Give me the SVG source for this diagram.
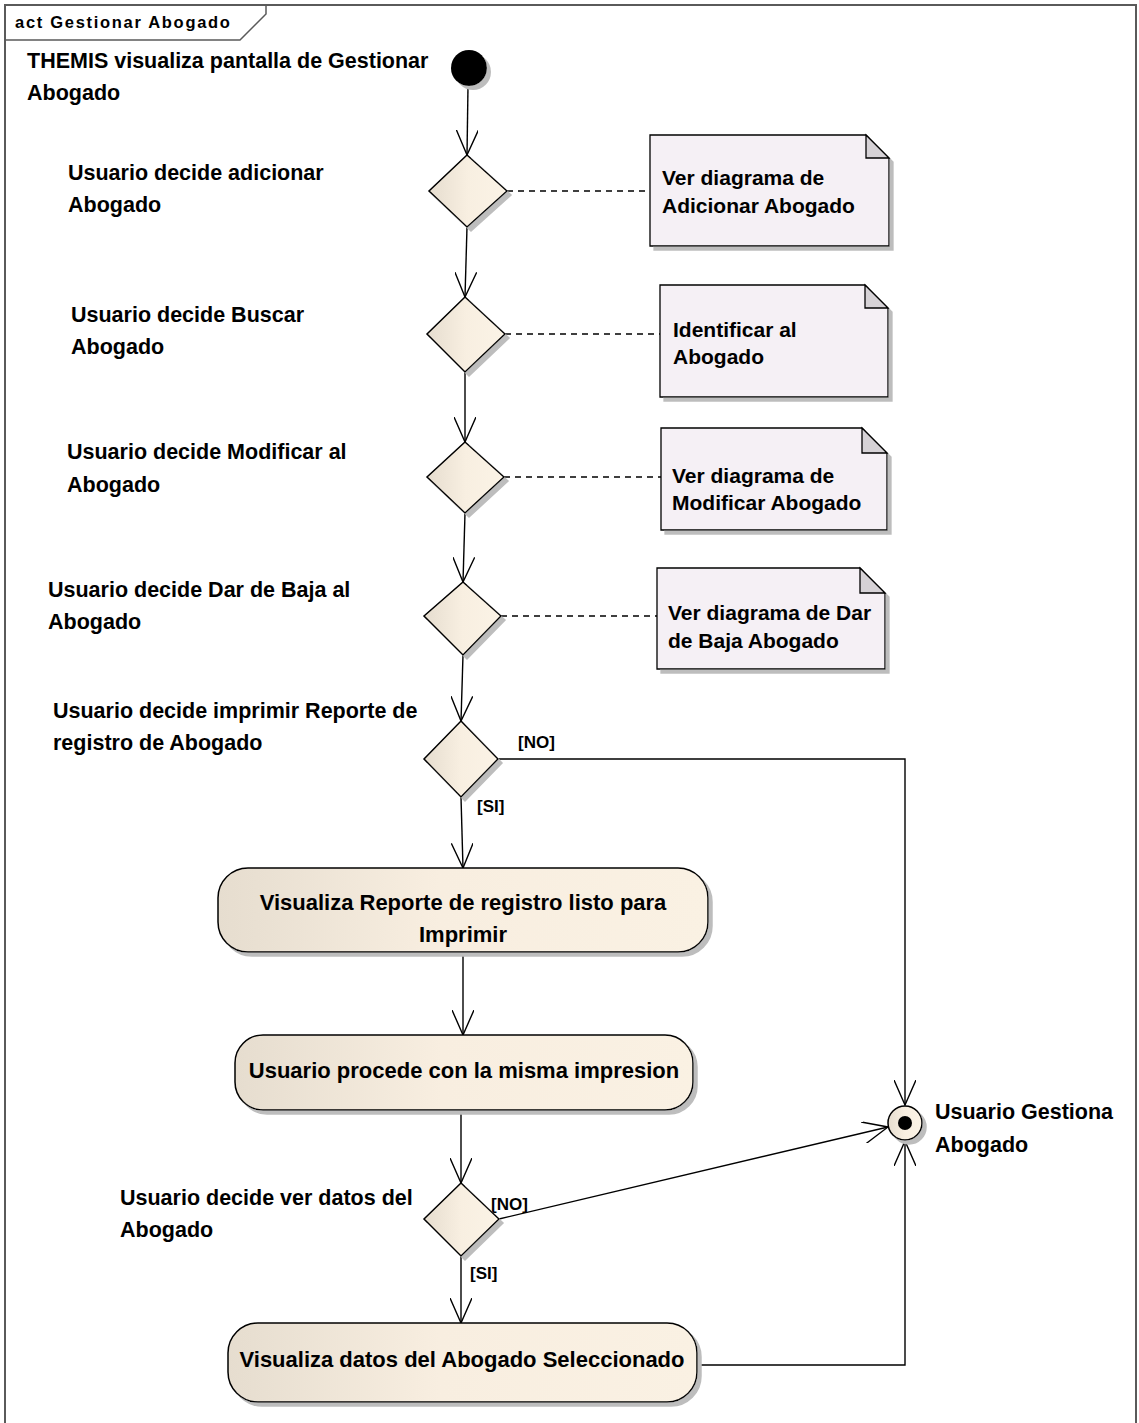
<svg xmlns="http://www.w3.org/2000/svg" width="1139" height="1423" viewBox="0 0 1139 1423">
<style>
text{font-family:"Liberation Sans",Arial,sans-serif;font-weight:bold;fill:#000}
.lbl{font-size:21.5px}
.note-t{font-size:21px}
.act-t{font-size:22px}
.grd{font-size:17px}
.hdr{font-size:16.5px;letter-spacing:1.7px}
.dia{fill:url(#gDia);stroke:#000;stroke-width:1.5;filter:url(#sh)}
.act{fill:url(#gAct);stroke:#000;stroke-width:1.5;filter:url(#sh)}
.note{fill:#f5f0f5;stroke:#000;stroke-width:1.3;filter:url(#sh)}
.fold{fill:#d6d2d6;stroke:#000;stroke-width:1.3}
.flow{fill:none;stroke:#000;stroke-width:1.4;marker-end:url(#arr)}
.dash{fill:none;stroke:#000;stroke-width:1.4;stroke-dasharray:6,5}
</style>
<defs>
<linearGradient id="gDia" x1="0" y1="0" x2="1" y2="0"><stop offset="0" stop-color="#e6ddcf"/><stop offset="0.5" stop-color="#f8efe1"/><stop offset="1" stop-color="#fbf3e6"/></linearGradient>
<linearGradient id="gAct" x1="0" y1="0" x2="1" y2="0"><stop offset="0" stop-color="#e6ddcf"/><stop offset="0.45" stop-color="#f8eee0"/><stop offset="1" stop-color="#faf1e3"/></linearGradient>
<filter id="sh" x="-10%" y="-10%" width="130%" height="130%"><feOffset in="SourceAlpha" dx="4" dy="4" result="o"/><feFlood flood-color="#bdbdbd"/><feComposite in2="o" operator="in"/><feMerge><feMergeNode/><feMergeNode in="SourceGraphic"/></feMerge></filter>
<marker id="arr" viewBox="0 0 26 22" refX="25" refY="11" markerWidth="26" markerHeight="22" markerUnits="userSpaceOnUse" orient="auto"><path d="M0,0 L25,11 L0,22" fill="none" stroke="#000" stroke-width="1.4"/></marker>
</defs>
<g id="frame">
<path d="M5,1440 V5 H1136 V1440" fill="none" stroke="#5a5a5a" stroke-width="2"/>
<path d="M5,40 H240 L266,14 V5" fill="none" stroke="#5a5a5a" stroke-width="1.5"/>
<text class="hdr" x="15" y="28">act Gestionar Abogado</text>
</g>
<g id="connectors">
<line class="flow" x1="468" y1="86" x2="467" y2="155"/>
<line class="flow" x1="467" y1="227" x2="465" y2="297"/>
<line class="flow" x1="465" y1="372" x2="465" y2="442"/>
<line class="flow" x1="465" y1="513" x2="463" y2="582"/>
<line class="flow" x1="463" y1="655" x2="461" y2="721"/>
<line class="flow" x1="461" y1="797" x2="463" y2="868"/>
<line class="flow" x1="463" y1="952" x2="463" y2="1035"/>
<line class="flow" x1="461" y1="1110" x2="461" y2="1183"/>
<line class="flow" x1="461" y1="1256" x2="461" y2="1323"/>
<path class="flow" d="M498,759 H905 V1105"/>
<line class="flow" x1="499" y1="1219" x2="888" y2="1127"/>
<path class="flow" d="M697,1365 H905 V1141"/>
<line class="dash" x1="507" y1="191" x2="650" y2="191"/>
<line class="dash" x1="505" y1="334" x2="660" y2="334"/>
<line class="dash" x1="504" y1="477" x2="661" y2="477"/>
<line class="dash" x1="501" y1="616" x2="657" y2="616"/>
<text class="grd" x="518" y="748">[NO]</text>
<text class="grd" x="477" y="812">[SI]</text>
<text class="grd" x="491" y="1210">[NO]</text>
<text class="grd" x="470" y="1279">[SI]</text>
</g>
<g id="start">
<circle cx="469" cy="68" r="18" fill="#000" filter="url(#sh)"/>
<text class="lbl" x="27" y="68">THEMIS visualiza pantalla de Gestionar</text>
<text class="lbl" x="27" y="100">Abogado</text>
</g>
<g id="d1">
<polygon class="dia" points="467,155 507,191 467,227 429,191"/>
<text class="lbl" x="68" y="180">Usuario decide adicionar</text>
<text class="lbl" x="68" y="212">Abogado</text>
</g>
<g id="n1">
<path class="note" d="M650,135 H866 L889,158 V246 H650 Z"/>
<path class="fold" d="M866,135 V158 H889 Z"/>
<text class="note-t" x="662" y="185">Ver diagrama de</text>
<text class="note-t" x="662" y="213">Adicionar Abogado</text>
</g>
<g id="d2">
<polygon class="dia" points="465,297 505,334 465,372 427,334"/>
<text class="lbl" x="71" y="322">Usuario decide Buscar</text>
<text class="lbl" x="71" y="354">Abogado</text>
</g>
<g id="n2">
<path class="note" d="M660,285 H865 L888,308 V397 H660 Z"/>
<path class="fold" d="M865,285 V308 H888 Z"/>
<text class="note-t" x="673" y="337">Identificar al</text>
<text class="note-t" x="673" y="364">Abogado</text>
</g>
<g id="d3">
<polygon class="dia" points="465,442 504,477 465,513 427,477"/>
<text class="lbl" x="67" y="459">Usuario decide Modificar al</text>
<text class="lbl" x="67" y="492">Abogado</text>
</g>
<g id="n3">
<path class="note" d="M661,428 H862 L887,453 V530 H661 Z"/>
<path class="fold" d="M862,428 V453 H887 Z"/>
<text class="note-t" x="672" y="483">Ver diagrama de</text>
<text class="note-t" x="672" y="510">Modificar Abogado</text>
</g>
<g id="d4">
<polygon class="dia" points="463,582 501,616 463,655 424,616"/>
<text class="lbl" x="48" y="597">Usuario decide Dar de Baja al</text>
<text class="lbl" x="48" y="629">Abogado</text>
</g>
<g id="n4">
<path class="note" d="M657,568 H860 L885,593 V669 H657 Z"/>
<path class="fold" d="M860,568 V593 H885 Z"/>
<text class="note-t" x="668" y="620">Ver diagrama de Dar</text>
<text class="note-t" x="668" y="648">de Baja Abogado</text>
</g>
<g id="d5">
<polygon class="dia" points="461,721 498,759 461,797 424,759"/>
<text class="lbl" x="53" y="718">Usuario decide imprimir Reporte de</text>
<text class="lbl" x="53" y="750">registro de Abogado</text>
</g>
<g id="a1">
<rect class="act" x="218" y="868" width="490" height="84" rx="30" ry="30"/>
<text class="act-t" x="463" y="910" text-anchor="middle">Visualiza Reporte de registro listo para</text>
<text class="act-t" x="463" y="942" text-anchor="middle">Imprimir</text>
</g>
<g id="a2">
<rect class="act" x="235" y="1035" width="458" height="75" rx="28" ry="28"/>
<text class="act-t" x="464" y="1078" text-anchor="middle">Usuario procede con la misma impresion</text>
</g>
<g id="d6">
<polygon class="dia" points="461,1183 499,1219 461,1256 424,1219"/>
<text class="lbl" x="120" y="1205">Usuario decide ver datos del</text>
<text class="lbl" x="120" y="1237">Abogado</text>
</g>
<g id="a3">
<rect class="act" x="228" y="1323" width="469" height="79" rx="30" ry="30"/>
<text class="act-t" x="462" y="1367" text-anchor="middle">Visualiza datos del Abogado Seleccionado</text>
</g>
<g id="final">
<circle cx="905" cy="1123" r="17" fill="url(#gDia)" stroke="#000" stroke-width="1.5" filter="url(#sh)"/>
<circle cx="905" cy="1123" r="7" fill="#000"/>
<text class="lbl" x="935" y="1119">Usuario Gestiona</text>
<text class="lbl" x="935" y="1152">Abogado</text>
</g>
</svg>
